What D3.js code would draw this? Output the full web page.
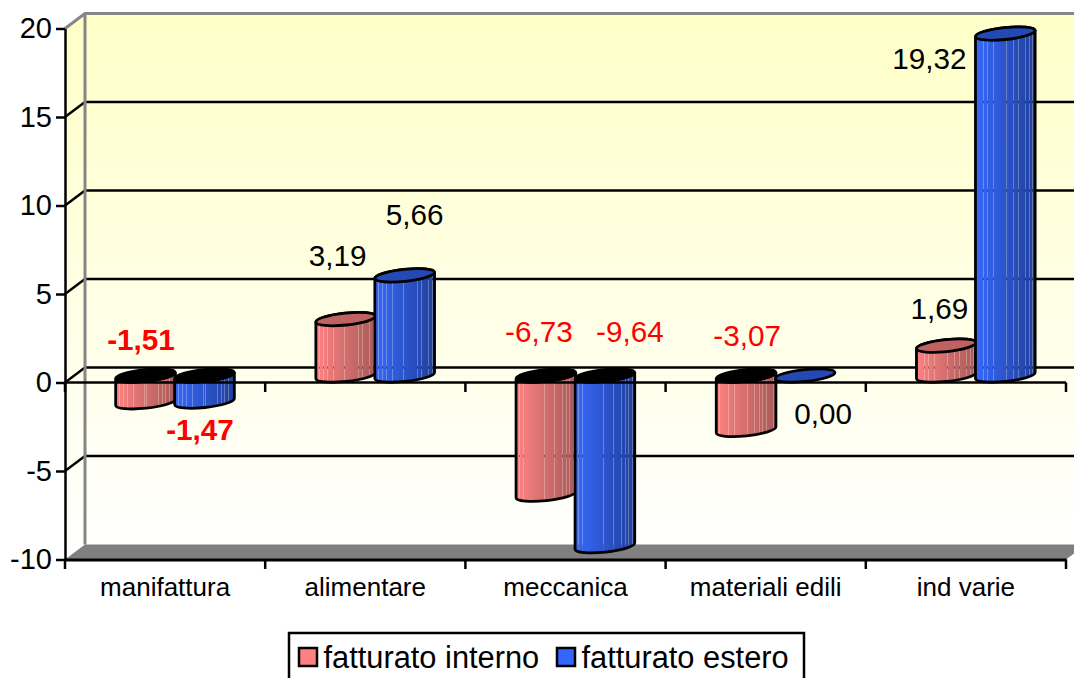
<!DOCTYPE html>
<html>
<head>
<meta charset="utf-8">
<script src="https://cdn.jsdelivr.net/npm/d3@7"></script>
<style>
  html, body { margin: 0; padding: 0; background: #fff; overflow: hidden; }
  svg { display: block; }
  text { font-family: "Liberation Sans", Arial, sans-serif; fill: #000; }
</style>
</head>
<body>
<svg id="chart" width="1074" height="678"></svg>
<script>
// data
const categories = ["manifattura", "alimentare", "meccanica", "materiali edili", "ind varie"];
const seriesNames = ["fatturato interno", "fatturato estero"];
const interno = [-1.51, 3.19, -6.73, -3.07, 1.69];
const estero = [-1.47, 5.66, -9.64, 0.00, 19.32];
const yTicks = [-10, -5, 0, 5, 10, 15, 20];

// size and boundary
const svg = d3.select("#chart");
const depthX = 20, depthY = 15;   // wall offset
const barDepth = 7;               // cylinders stand mid way in the depth
const rx = 30, ry = 6, tilt = -6;

const yScale = d3.scaleLinear().domain([-10, 20]).range([559.5, 28.5]);
const xScale = d3.scaleBand().domain(categories).range([65, 1066]);
const xInner = d3.scaleBand().domain(seriesNames).range([51, 169]);
const xRight = xScale.range()[1];
const xEdges = categories.map(c => xScale(c)).concat(xRight);

const bars = [];
categories.forEach((c, i) => {
    bars.push({ cat: c, series: seriesNames[0], value: interno[i], idx: 0 });
    bars.push({ cat: c, series: seriesNames[1], value: estero[i], idx: 1 });
});

// label placement, relative to the bar end (dx, dy), same order as bars
const labelNudge = [
    [-4.5, -70], [-4.5, 21], [-8, -70.5], [10, -68], [-7, -170],
    [25, -221.6], [1, -101], [18, 31], [-7, -44], [-76, 18]
];
const boldLabels = [0, 1];

const fmt = v => v.toFixed(2).replace(".", ",");

// gradients
const defs = svg.append("defs");
const wallGrad = defs.append("linearGradient").attr("id", "wall")
    .attr("gradientUnits", "userSpaceOnUse")
    .attr("x1", 0).attr("x2", 0).attr("y1", 14).attr("y2", 559);
wallGrad.append("stop").attr("offset", 0).attr("stop-color", "#ffffc8");
wallGrad.append("stop").attr("offset", 1).attr("stop-color", "#ffffff");

// banding seams let the background show a little, like the original
const seams = [0.06, 0.13, 0.2, 0.3, 0.48, 0.52, 0.64, 0.72, 0.78, 0.84, 0.9, 0.96];
const bodyColors = [["#ff8282", "#a85a5a"], ["#3768fb", "#20409c"]];
bodyColors.forEach((cols, n) => {
    const mix = d3.interpolateRgb(cols[0], cols[1]);
    const g = defs.append("linearGradient").attr("id", "body" + n);
    let prev = 0;
    seams.forEach(s => {
        g.append("stop").attr("offset", prev).attr("stop-color", mix(prev));
        g.append("stop").attr("offset", s - 0.006).attr("stop-color", mix(s));
        g.append("stop").attr("offset", s - 0.006).attr("stop-color", mix(s)).attr("stop-opacity", 0.72);
        g.append("stop").attr("offset", s + 0.006).attr("stop-color", mix(s)).attr("stop-opacity", 0.72);
        prev = s + 0.006;
    });
    g.append("stop").attr("offset", prev).attr("stop-color", mix(prev));
    g.append("stop").attr("offset", 1).attr("stop-color", cols[1]);
});
const topColors = ["#c06262", "#2449b4"];
const swatchColors = ["#ff8080", "#3366ff"];

// walls and floor
const xBack0 = 65 + depthX, xBack1 = xRight + depthX;
const yTop = yScale(20), yBottom = yScale(-10);

svg.append("rect").attr("x", xBack0).attr("y", yTop - depthY)
    .attr("width", xBack1 - xBack0).attr("height", yBottom - yTop)
    .attr("fill", "url(#wall)");
svg.append("path")
    .attr("d", `M65,${yTop}L${xBack0},${yTop - depthY}V${yBottom - depthY}L65,${yBottom}Z`)
    .attr("fill", "url(#wall)");
svg.append("path")
    .attr("d", `M65,${yBottom}L${xBack0},${yBottom - depthY}H${xBack1}L${xRight},${yBottom}Z`)
    .attr("fill", "#808080");

// grid on the walls
svg.append("g").selectAll("path")
    .data(yTicks.filter(t => t > -10 && t < 20))
    .enter().append("path")
    .attr("d", d => `M65,${yScale(d)}L${xBack0},${yScale(d) - depthY}H${xBack1}`)
    .attr("fill", "none")
    .attr("stroke", "#000")
    .attr("stroke-width", 2.4);

svg.append("path")
    .attr("d", `M65,${yTop}L${xBack0},${yTop - depthY}H${xBack1}M${xBack0},${yTop - depthY}V${yBottom - depthY}`)
    .attr("fill", "none")
    .attr("stroke", "#868686")
    .attr("stroke-width", 3);

// cylinders
const rad = tilt * Math.PI / 180;
const ex = rx * Math.cos(rad), ey = rx * Math.sin(rad);

const barG = svg.append("g").selectAll("g")
    .data(bars)
    .enter().append("g");

barG.append("path")
    .attr("d", d => {
        const cx = xScale(d.cat) + xInner(d.series) + xInner.bandwidth() / 2;
        const a = yScale(0) - barDepth, b = yScale(d.value) - barDepth;
        return `M${cx - ex},${a - ey}L${cx - ex},${b - ey}`
            + `A${rx},${ry} ${tilt} 0 ${d.value >= 0 ? 1 : 0} ${cx + ex},${b + ey}`
            + `L${cx + ex},${a + ey}`
            + `A${rx},${ry} ${tilt} 0 1 ${cx - ex},${a - ey}Z`;
    })
    .attr("fill", d => `url(#body${d.idx})`)
    .attr("stroke", "#000")
    .attr("stroke-width", 2.8)
    .attr("display", d => d.value === 0 ? "none" : null);

barG.append("ellipse")
    .attr("transform", d => {
        const cx = xScale(d.cat) + xInner(d.series) + xInner.bandwidth() / 2;
        const v = d.value < 0 ? 0 : d.value;
        return `translate(${cx},${yScale(v) - barDepth}) rotate(${tilt})`;
    })
    .attr("rx", rx)
    .attr("ry", ry)
    .attr("fill", d => d.value < 0 ? "#000" : topColors[d.idx])
    .attr("stroke", "#000")
    .attr("stroke-width", 2.8);

// axes
const yAxis = d3.axisLeft(yScale)
    .tickValues(yTicks)
    .tickSize(9)
    .tickSizeOuter(0)
    .tickPadding(4)
    .tickFormat(d => d);
const gy = svg.append("g").attr("transform", "translate(65,0)").call(yAxis);
gy.selectAll("line").attr("stroke", "#000").attr("stroke-width", 2.5);
gy.select(".domain").attr("stroke", "#000").attr("stroke-width", 2.5);
gy.selectAll("text").attr("font-size", 29).attr("font-family", null);

const xAxis = d3.axisBottom(xScale).tickSize(0).tickSizeOuter(0).tickPadding(18);
const gx = svg.append("g").attr("transform", `translate(0,${yBottom})`).call(xAxis);
gx.select(".domain").attr("stroke", "#000").attr("stroke-width", 3);
gx.selectAll("text").attr("font-size", 26).attr("font-family", null);

// zero line and the category ticks on both lines
svg.append("line")
    .attr("x1", 65).attr("x2", xRight)
    .attr("y1", yScale(0)).attr("y2", yScale(0))
    .attr("stroke", "#000").attr("stroke-width", 2.5);
[yScale(0), yBottom].forEach(y => {
    svg.append("g").selectAll("line")
        .data(xEdges)
        .enter().append("line")
        .attr("x1", d => d).attr("x2", d => d)
        .attr("y1", y).attr("y2", y + 9.5)
        .attr("stroke", "#000").attr("stroke-width", 2.5);
});

// data labels
svg.append("g").selectAll("text")
    .data(bars)
    .enter().append("text")
    .attr("x", (d, i) => xScale(d.cat) + xInner(d.series) + xInner.bandwidth() / 2 + labelNudge[i][0])
    .attr("y", (d, i) => yScale(d.value) + labelNudge[i][1])
    .attr("dy", "0.35em")
    .attr("text-anchor", "middle")
    .attr("font-size", 29.7)
    .attr("font-weight", (d, i) => boldLabels.includes(i) ? "bold" : "normal")
    .style("fill", d => d.value < 0 ? "#ff0000" : "#000")
    .text(d => fmt(d.value));

// legend
svg.append("rect")
    .attr("x", 289).attr("y", 633)
    .attr("width", 515).attr("height", 60)
    .attr("fill", "#fff")
    .attr("stroke", "#000")
    .attr("stroke-width", 2.5);
const legendX = d3.scaleOrdinal().domain(seriesNames).range([299, 557]);
const legend = svg.append("g").selectAll("g")
    .data(seriesNames)
    .enter().append("g")
    .attr("transform", d => `translate(${legendX(d)},0)`);
legend.append("rect")
    .attr("y", 648).attr("width", 18).attr("height", 18)
    .attr("fill", (d, i) => swatchColors[i])
    .attr("stroke", "#000").attr("stroke-width", 2.5);
legend.append("text")
    .attr("x", 24.5).attr("y", 668)
    .attr("font-size", 30.8)
    .text(d => d);
</script>
</body>
</html>
